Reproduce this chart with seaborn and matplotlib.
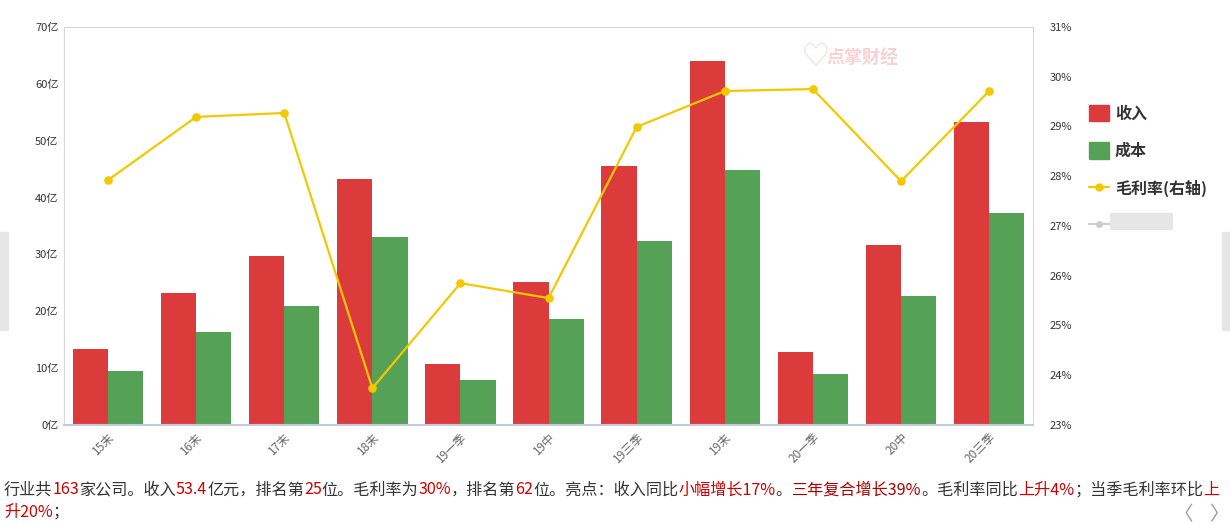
import pandas as pd
import seaborn as sns
import matplotlib.pyplot as plt
from matplotlib.patches import Patch, Rectangle
from matplotlib.lines import Line2D

# Data
periods = ['15末', '16末', '17末', '18末', '19一季', '19中', '19三季', '19末', '20一季', '20中', '20三季']
revenue = [13.4, 23.2, 29.7, 43.3, 10.7, 25.1, 45.5, 64.0, 12.8, 31.7, 53.3]
cost = [9.5, 16.4, 20.9, 33.1, 7.9, 18.6, 32.4, 44.8, 9.0, 22.7, 37.3]
margin = [27.92, 29.19, 29.27, 23.74, 25.85, 25.55, 28.99, 29.71, 29.75, 27.90, 29.71]
left_ticks = [0, 10, 20, 30, 40, 50, 60, 70]
right_ticks = [23, 24, 25, 26, 27, 28, 29, 30, 31]

RED = '#db3b3b'
GREEN = '#55a155'
YELLOW = '#f2c800'
FONT = ['Noto Sans CJK SC', 'DejaVu Sans']

sns.set_style('white')
plt.rcParams['font.family'] = FONT

df = pd.DataFrame({'period': periods * 2,
                   'value': revenue + cost,
                   'kind': ['收入'] * len(periods) + ['成本'] * len(periods)})
df_line = pd.DataFrame({'period': periods, 'margin': margin})

fig = plt.figure(figsize=(12.3, 5.26), dpi=100)
ax = fig.add_axes([0.052, 0.192, 0.788, 0.757])

sns.barplot(data=df, x='period', y='value', hue='kind', palette=[RED, GREEN],
            order=periods, ax=ax, saturation=1, width=0.8, legend=False,
            linewidth=0, edgecolor='none')
ax.set_ylim(0, 70)
ax.set_yticks(left_ticks)
ax.set_yticklabels([f'{t}亿' for t in left_ticks], fontsize=8, color='#333333')
ax.set_xlabel('')
ax.set_ylabel('')
ax.set_xlim(-0.5, len(periods) - 0.5)
ax.set_xticks(range(len(periods)))
ax.set_xticklabels(periods, rotation=45, ha='right', rotation_mode='anchor',
                   fontsize=8.5, color='#666666')
ax.tick_params(axis='both', length=0, pad=4)
for s in ['left', 'top', 'right']:
    ax.spines[s].set_color('#d8d8d8')
ax.spines['bottom'].set_color('#c4cbdb')
ax.spines['bottom'].set_linewidth(1.5)

ax2 = ax.twinx()
sns.pointplot(data=df_line, x='period', y='margin', order=periods, ax=ax2,
              color=YELLOW, markers='o', markersize=5, linewidth=1.6, errorbar=None)
ax2.set_xlim(-0.5, len(periods) - 0.5)
ax2.set_ylim(23, 31)
ax2.set_yticks(right_ticks)
ax2.set_yticklabels([f'{t}%' for t in right_ticks], fontsize=8, color='#333333')
ax2.tick_params(axis='y', length=0, pad=12)
ax2.set_ylabel('')
for s in ax2.spines.values():
    s.set_visible(False)

# legend
handles = [Patch(color=RED, label='收入'),
           Patch(color=GREEN, label='成本'),
           Line2D([], [], color=YELLOW, marker='o', markersize=5, lw=1.6, label='毛利率(右轴)'),
           Line2D([], [], color='#cccccc', marker='o', markersize=4, lw=1.6, label=' ')]
leg = fig.legend(handles=handles, loc='upper left', bbox_to_anchor=(0.874, 0.828),
                 frameon=False, prop={'family': FONT, 'size': 11.5, 'weight': 'bold'},
                 handlelength=1.2, handleheight=1.2, handletextpad=0.4, labelspacing=1.3)
for t in leg.get_texts():
    t.set_color('#333333')
# blurred legend label
fig.patches.append(Rectangle((1110 / 1230, 1 - 229 / 526), 62 / 1230, 16 / 526,
                             transform=fig.transFigure, color='#e6e6e6', zorder=5))

# watermark
fig.text(0.652, 0.893, '\u2661', fontsize=20, color='#f7dada', ha='left', va='center')
fig.text(0.672, 0.888, '点掌财经', fontsize=13, color='#f7d2d2', weight='bold', ha='left', va='center')

# scroll bars
fig.patches.append(Rectangle((0, 1 - 330 / 526), 8 / 1230, 98 / 526, transform=fig.transFigure,
                             color='#e6e6e6'))
fig.patches.append(Rectangle((1222 / 1230, 1 - 330 / 526), 8 / 1230, 98 / 526,
                             transform=fig.transFigure, color='#e6e6e6'))
fig.text(1183 / 1230, 1 - 515 / 526, '〈', fontsize=14, color='#999999', ha='center', va='center')
fig.text(1220 / 1230, 1 - 515 / 526, '〉', fontsize=14, color='#999999', ha='center', va='center')

# footer sentence with coloured pieces
DARK = '#333333'
HI = '#cc0000'
line1 = [('行业共', DARK), ('163', HI), ('家公司。收入', DARK), ('53.4', HI), ('亿元，排名第', DARK),
         ('25', HI), ('位。毛利率为', DARK), ('30%', HI), ('，排名第', DARK), ('62', HI),
         ('位。亮点：收入同比', DARK), ('小幅增长17%', HI), ('。', DARK), ('三年复合增长39%', '#aa0000'),
         ('。毛利率同比', DARK), ('上升4%', HI), ('；当季毛利率环比', DARK), ('上', HI)]
line2 = [('升20%', HI), ('；', DARK)]

fig.canvas.draw()
renderer = fig.canvas.get_renderer()


def write_line(parts, x0, y0):
    x = x0
    for txt, col in parts:
        t = fig.text(x / 1230, 1 - y0 / 526, txt, color=col, fontsize=11.6,
                     ha='left', va='center')
        bb = t.get_window_extent(renderer)
        x += bb.width


write_line(line1, 4, 490)
write_line(line2, 4, 512)

fig.savefig('out.png', dpi=100)
